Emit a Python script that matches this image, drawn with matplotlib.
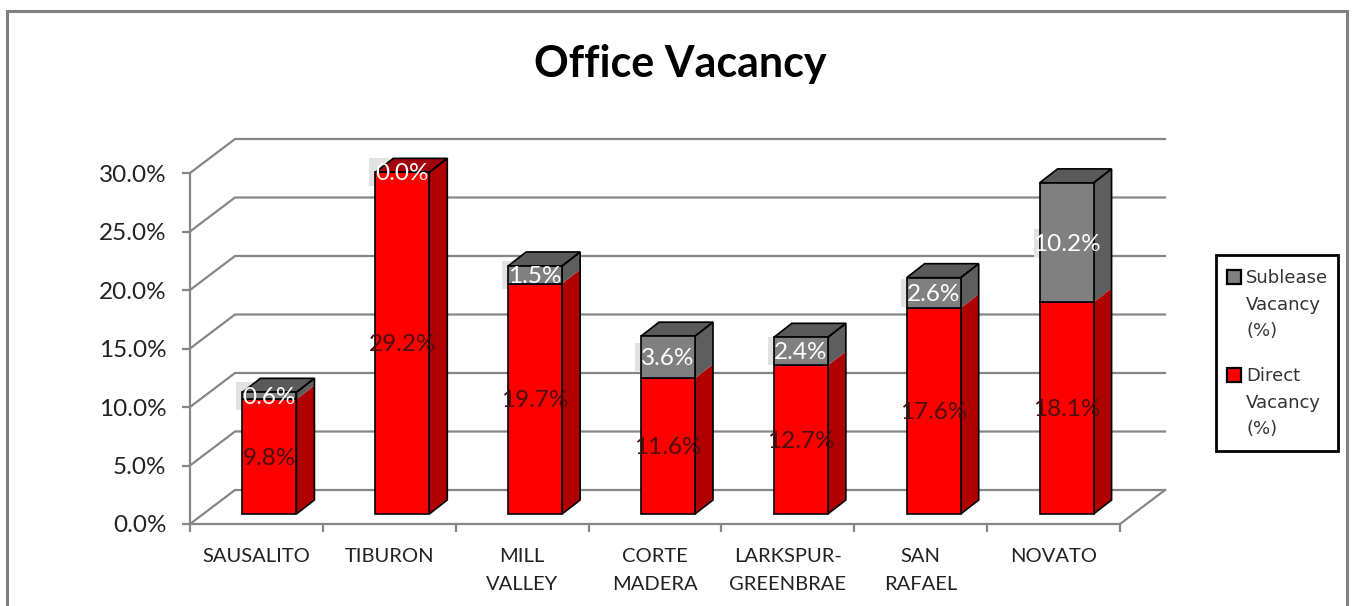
import matplotlib
matplotlib.use('Agg')
import matplotlib.pyplot as plt
from matplotlib.patches import Polygon, Rectangle

cities = ['SAUSALITO', 'TIBURON', 'MILL\nVALLEY', 'CORTE\nMADERA',
          'LARKSPUR-\nGREENBRAE', 'SAN\nRAFAEL', 'NOVATO']
direct = [9.8, 29.2, 19.7, 11.6, 12.7, 17.6, 18.1]
sublease = [0.6, 0.0, 1.5, 3.6, 2.4, 2.6, 10.2]
yticks = [0, 5, 10, 15, 20, 25, 30]

W, H = 1354, 606
fig = plt.figure(figsize=(W / 100, H / 100), dpi=100)
plt.rcParams['font.family'] = ['Lato', 'DejaVu Sans']

# axes = the front plane of the fake 3d box
L, R, B, T = 190, 1120, 524, 173
ax = fig.add_axes([L / W, 1 - B / H, (R - L) / W, (B - T) / H])
ax.set_xlim(0, 7)
ax.set_ylim(0, 30)
ax.patch.set_alpha(0)

# pixel -> data helpers for depth offsets
px = 7 / (R - L)
py = 30 / (B - T)
wall_dx, wall_dy = 45 * px, 34 * py
base_dx, base_dy = 13 * px, 10 * py
depth_dx, depth_dy = 18 * px, 14 * py
bar_w = 54 * px

grid = '#868686'
for s in ['top', 'right']:
    ax.spines[s].set_visible(False)
for s in ['left', 'bottom']:
    ax.spines[s].set_color(grid)
    ax.spines[s].set_linewidth(1.6)

ax.set_yticks(yticks)
ax.set_yticklabels(['%.1f%%' % v for v in yticks], fontsize=17.5, color='#222222')
ax.tick_params(axis='y', color=grid, width=1.6, length=6, pad=11)
ax.set_xticks(range(8))
ax.set_xticklabels([])
ax.tick_params(axis='x', which='major', color=grid, width=1.6, length=6)
ax.set_xticks([i + 0.5 for i in range(7)], minor=True)
ax.set_xticklabels(cities, minor=True, fontsize=14.5, color='#222222', linespacing=1.8)
ax.tick_params(axis='x', which='minor', length=0, pad=17)

# walls
for v in yticks:
    ax.plot([0, wall_dx, 7 + wall_dx], [v, v + wall_dy, v + wall_dy], color=grid,
            lw=1.6, clip_on=False, zorder=1)
ax.plot([7, 7 + wall_dx], [0, wall_dy], color=grid, lw=1.6, clip_on=False, zorder=1)

xs = [i + 0.5 + base_dx for i in range(7)]
bottoms = [base_dy] * 7
tops = [base_dy + d for d in direct]

RED, RED_S = '#ff0000', '#b00000'
GR, GR_S = '#808080', '#5e5e5e'


def side(x, y0, y1, color):
    r = x + bar_w / 2
    ax.add_patch(Polygon([(r, y0), (r + depth_dx, y0 + depth_dy),
                          (r + depth_dx, y1 + depth_dy), (r, y1)],
                         fc=color, ec='none', clip_on=False, zorder=3))


for i, x in enumerate(xs):
    t = tops[i]
    t2 = t + sublease[i]
    # pale shadow box that sits behind the white labels
    cy = t + sublease[i] / 2
    ax.add_patch(Rectangle((x - bar_w / 2 - 6 * px, cy - 14 * py), 20 * px, 28 * py,
                           fc='#e2e2e2', ec='none', clip_on=False, zorder=2))
    side(x, base_dy, t, RED_S)
    if sublease[i] > 0:
        side(x, t, t2, GR_S)
    r = x + bar_w / 2
    l = x - bar_w / 2
    # outline of side and top
    top_c = '#5a5a5a' if sublease[i] > 0 else '#a00010'
    ax.add_patch(Polygon([(l, t2), (l + depth_dx, t2 + depth_dy),
                          (r + depth_dx, t2 + depth_dy), (r, t2)],
                         fc=top_c, ec='black', lw=1.2, clip_on=False, zorder=4))
    ax.add_patch(Polygon([(r, base_dy), (r + depth_dx, base_dy + depth_dy),
                          (r + depth_dx, t2 + depth_dy), (r, t2)],
                         fc='none', ec='black', lw=1.2, clip_on=False, zorder=4))

ax.bar(xs, direct, bar_w, bottom=bottoms, color=RED, edgecolor='black', lw=1.2,
       zorder=5, clip_on=False)
ax.bar(xs, sublease, bar_w, bottom=tops, color=GR, edgecolor='black', lw=1.2,
       zorder=5, clip_on=False)

for i, x in enumerate(xs):
    ax.text(x, base_dy + direct[i] / 2 - 1.5 * py, '%.1f%%' % direct[i], ha='center', va='center',
            fontsize=17.5, color='#4a1010', zorder=7, clip_on=False)
    ax.text(x, tops[i] + sublease[i] / 2 - 1.5 * py, '%.1f%%' % sublease[i], ha='center', va='center',
            fontsize=17.5, color='white', zorder=7, clip_on=False)


def fx(p):
    return p / W


def fy(p):
    return 1 - p / H


fig.text(fx(680), fy(64), 'Office Vacancy', ha='center', va='center', fontsize=31,
         fontweight='bold', color='black')

# outer border, runs off the bottom of the image
fig.add_artist(Rectangle((fx(7), fy(620)), fx(1340), fy(11) - fy(620), fill=False,
                         ec='#808080', lw=2.2, transform=fig.transFigure))

# legend box
fig.add_artist(Rectangle((fx(1216), fy(451)), fx(122), fy(255) - fy(451), fc='white',
                         ec='black', lw=2, transform=fig.transFigure))
for yy, c, label in [(277, GR, 'Sublease\nVacancy\n(%)'), (375, RED, 'Direct\nVacancy\n(%)')]:
    fig.add_artist(Rectangle((fx(1227), fy(yy + 7)), fx(14), fy(yy - 7) - fy(yy + 7), fc=c,
                             ec='black', lw=1.6, transform=fig.transFigure))
    fig.text(fx(1246), fy(yy - 8), label, ha='left', va='top', fontsize=13, color='#333333',
             family=['DejaVu Sans'], linespacing=1.62)

fig.savefig('out.png', dpi=100)
